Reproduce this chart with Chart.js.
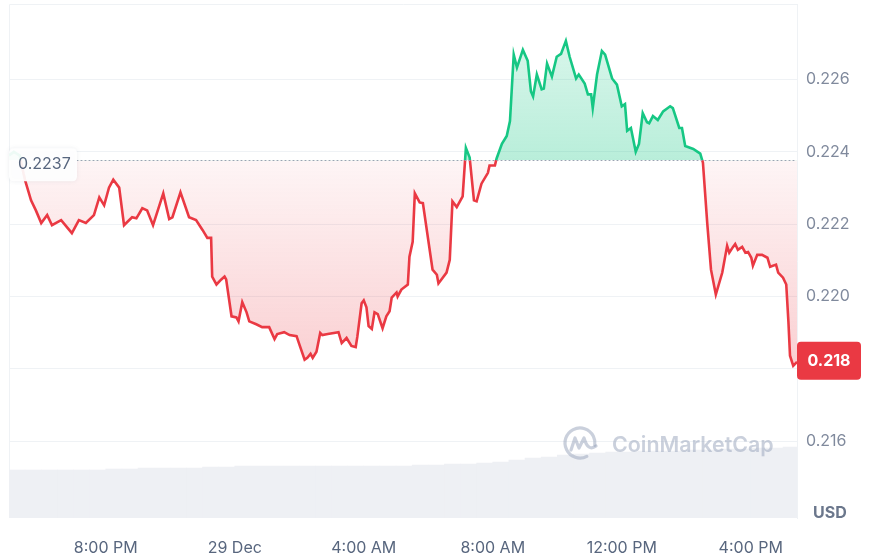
<!DOCTYPE html>
<html>
<head>
<meta charset="utf-8">
<script src="https://cdn.jsdelivr.net/npm/chart.js@4.4.1/dist/chart.umd.min.js"></script>
<style>
  html, body { margin: 0; padding: 0; background: #fff; }
  #wrap { position: relative; width: 889px; height: 553px; }
</style>
</head>
<body>
<div id="wrap"><canvas id="priceChart"></canvas></div>
<script>
// price, minutes after 5:00 PM on 28 Dec
const times = [0, 9, 20, 27, 30, 41, 50, 60, 71, 80, 97, 117, 130, 143, 158, 168, 177, 186, 194, 205,
  214, 229, 237, 248, 257, 268, 287, 298, 304, 319, 335, 348, 360, 369, 376, 378, 386, 395, 401, 404,
  414, 423, 427, 434, 442, 447, 460, 471, 484, 494, 499, 512, 522, 535, 540, 550, 555, 561, 565, 572,
  579, 583, 593, 613, 619, 628, 637, 645, 648, 656, 660, 665, 669, 675, 680, 686, 695, 702, 708, 712,
  721, 723, 730, 742, 745, 751, 755, 764, 770, 788, 796, 799, 814, 820, 825, 833, 844, 850, 857, 865,
  870, 879, 891, 894, 904, 907, 917, 926, 932, 939, 945, 956, 965, 971, 975, 982, 991, 995, 1001, 1010,
  1019, 1027, 1036, 1043, 1055, 1060, 1071, 1077, 1083, 1086, 1094, 1103, 1109, 1122, 1131, 1140, 1146, 1150, 1157, 1166,
  1172, 1179, 1187, 1191, 1198, 1207, 1217, 1230, 1235, 1247, 1252, 1258, 1273, 1286, 1291, 1299, 1306, 1315, 1327, 1336,
  1340, 1347, 1351, 1356, 1364, 1370, 1375, 1381, 1384, 1392, 1401, 1411, 1416, 1427, 1431, 1440, 1446, 1450, 1453, 1459,
  1466];
const prices = [0.2239, 0.2240, 0.2239, 0.2234, 0.22321, 0.22266, 0.22238, 0.22203, 0.22225, 0.22197,
  0.22211, 0.22175, 0.22211, 0.22203, 0.22225, 0.22274, 0.22252, 0.22301, 0.22323, 0.22301,
  0.22197, 0.22219, 0.22216, 0.22244, 0.22238, 0.22197, 0.22285, 0.22214, 0.22219, 0.22288,
  0.22219, 0.22211, 0.22184, 0.22162, 0.22162, 0.22055, 0.22033, 0.22047, 0.22055, 0.22047,
  0.21945, 0.21942, 0.21931, 0.21984, 0.21956, 0.21931, 0.21923, 0.21915, 0.21915, 0.21882,
  0.21896, 0.21901, 0.21893, 0.21890, 0.21868, 0.21825, 0.21830, 0.21841, 0.21830, 0.21847,
  0.21899, 0.21893, 0.21896, 0.21901, 0.21871, 0.21885, 0.21863, 0.21860, 0.21888, 0.21981,
  0.21989, 0.21970, 0.21918, 0.21910, 0.21956, 0.21951, 0.21912, 0.21945, 0.21959, 0.21997,
  0.22011, 0.22000, 0.22019, 0.22033, 0.22110, 0.22151, 0.22285, 0.22260, 0.22258, 0.22074,
  0.22060, 0.22036, 0.22066, 0.22101, 0.22263, 0.22247, 0.22277, 0.22411, 0.22384, 0.22266,
  0.22263, 0.22312, 0.22342, 0.22362, 0.22362, 0.22381, 0.22422, 0.22444, 0.22485, 0.22669,
  0.22633, 0.22682, 0.22652, 0.22567, 0.22553, 0.22614, 0.22573, 0.22575, 0.22644, 0.22608,
  0.22663, 0.22671, 0.22707, 0.22663, 0.22603, 0.22614, 0.22589, 0.22559, 0.22559, 0.22521,
  0.22614, 0.22679, 0.22669, 0.22603, 0.22586, 0.22526, 0.22532, 0.22458, 0.22466, 0.22400,
  0.22422, 0.22507, 0.22482, 0.22479, 0.22499, 0.22488, 0.22512, 0.22526, 0.22521, 0.22466,
  0.22466, 0.22416, 0.22408, 0.22395, 0.22370, 0.22203, 0.22074, 0.22005, 0.22066, 0.22140,
  0.22121, 0.22137, 0.22145, 0.22129, 0.22137, 0.22121, 0.22123, 0.22107, 0.22085, 0.22115,
  0.22115, 0.22107, 0.22082, 0.22088, 0.22066, 0.22052, 0.22033, 0.21931, 0.21836, 0.21808,
  0.21819];

// volume bars, half-hour buckets (centre minute) and relative volume
const volumeTimes = [15, 45, 75, 105, 135, 165, 195, 225, 255, 285, 315, 345, 375, 405, 435, 465,
  495, 525, 555, 585, 615, 645, 675, 705, 735, 765, 795, 825, 855, 885, 915, 945, 975, 1005,
  1035, 1065, 1095, 1125, 1155, 1185, 1215, 1245, 1275, 1305, 1335, 1365, 1395, 1425, 1455];
const volumes = [48, 48, 48, 48, 48, 48, 49, 49, 50, 50, 50, 50, 51, 51, 52, 52, 52, 52, 52, 52,
  52, 52, 52, 52, 52, 53, 53, 54, 54, 55, 56, 58, 60, 61, 63, 64, 65, 66, 66, 67, 67, 67, 68, 68,
  69, 69, 70, 70, 71];

const tickMinutes = [180, 420, 660, 900, 1140, 1380];
const tickLabels = ['8:00 PM', '29 Dec', '4:00 AM', '8:00 AM', '12:00 PM', '4:00 PM'];
const priceTicks = [0.216, 0.218, 0.220, 0.222, 0.224, 0.226];
const openPrice = 0.22377;

const GREEN = '#16c784';
const RED = '#ea3943';
const GRID = '#eff2f5';

Chart.defaults.font.family = 'Inter, "Noto Sans", sans-serif';

function baseFraction(chart) {
  const area = chart.chartArea;
  const y = chart.scales.y.getPixelForValue(openPrice);
  return Math.min(1, Math.max(0, (y - area.top) / (area.bottom - area.top)));
}

function lineGradient(context) {
  const chart = context.chart;
  const area = chart.chartArea;
  if (!area) return RED;
  const f = baseFraction(chart);
  const g = chart.ctx.createLinearGradient(0, area.top, 0, area.bottom);
  g.addColorStop(0, GREEN);
  g.addColorStop(f, GREEN);
  g.addColorStop(f, RED);
  g.addColorStop(1, RED);
  return g;
}

function greenFill(context) {
  const chart = context.chart;
  const area = chart.chartArea;
  if (!area) return 'rgba(22,199,132,0.22)';
  const yBase = chart.scales.y.getPixelForValue(openPrice);
  const yTop = chart.scales.y.getPixelForValue(Math.max(...prices));
  const g = chart.ctx.createLinearGradient(0, yTop, 0, yBase);
  g.addColorStop(0, 'rgba(22,199,132,0.17)');
  g.addColorStop(1, 'rgba(22,199,132,0.3)');
  return g;
}

function redFill(context) {
  const chart = context.chart;
  const area = chart.chartArea;
  if (!area) return 'rgba(234,57,67,0.15)';
  const yBase = chart.scales.y.getPixelForValue(openPrice);
  const yLow = chart.scales.y.getPixelForValue(Math.min(...prices));
  const g = chart.ctx.createLinearGradient(0, yBase, 0, yLow);
  g.addColorStop(0, 'rgba(234,57,67,0.05)');
  g.addColorStop(1, 'rgba(234,57,67,0.24)');
  return g;
}

function roundRect(ctx, x, y, w, h, r) {
  ctx.beginPath();
  ctx.moveTo(x + r, y);
  ctx.lineTo(x + w - r, y);
  ctx.quadraticCurveTo(x + w, y, x + w, y + r);
  ctx.lineTo(x + w, y + h - r);
  ctx.quadraticCurveTo(x + w, y + h, x + w - r, y + h);
  ctx.lineTo(x + r, y + h);
  ctx.quadraticCurveTo(x, y + h, x, y + h - r);
  ctx.lineTo(x, y + r);
  ctx.quadraticCurveTo(x, y, x + r, y);
  ctx.closePath();
}

const decorPlugin = {
  id: 'decor',
  beforeDatasetsDraw(chart) {
    const {ctx, chartArea: a} = chart;
    ctx.save();
    ctx.strokeStyle = GRID;
    ctx.lineWidth = 1;
    ctx.beginPath();
    ctx.moveTo(a.left + 0.5, a.bottom);
    ctx.lineTo(a.left + 0.5, a.top + 0.5);
    ctx.lineTo(a.right, a.top + 0.5);
    ctx.stroke();
    ctx.restore();
  },
  afterDatasetsDraw(chart) {
    const {ctx, chartArea: a} = chart;
    const yBase = chart.scales.y.getPixelForValue(openPrice);
    ctx.save();

    // watermark
    const wmColor = 'rgba(150,162,185,0.5)';
    const cx = a.right - 217, cy = a.bottom - 75;
    ctx.strokeStyle = wmColor;
    ctx.lineWidth = 3.2;
    ctx.lineCap = 'round';
    ctx.lineJoin = 'round';
    ctx.beginPath();
    ctx.arc(cx, cy, 15, 0.35 * Math.PI, 2.05 * Math.PI, false);
    ctx.stroke();
    ctx.beginPath();
    ctx.moveTo(cx - 9, cy + 7);
    ctx.lineTo(cx - 5, cy - 5);
    ctx.lineTo(cx - 1, cy + 5);
    ctx.lineTo(cx + 4, cy - 5);
    ctx.quadraticCurveTo(cx + 8, cy + 9, cx + 16, cy + 3);
    ctx.stroke();
    let size = 22;
    ctx.font = '600 ' + size + 'px Inter';
    const w = ctx.measureText('CoinMarketCap').width;
    size = size * 162 / w;
    ctx.font = '600 ' + size.toFixed(1) + 'px Inter';
    ctx.fillStyle = wmColor;
    ctx.textBaseline = 'middle';
    ctx.textAlign = 'left';
    ctx.fillText('CoinMarketCap', a.right - 185, a.bottom - 72);

    // open price dotted line
    ctx.strokeStyle = '#9aa3b2';
    ctx.lineWidth = 1;
    ctx.setLineDash([1, 3]);
    ctx.beginPath();
    ctx.moveTo(a.left + 68, Math.round(yBase) + 0.5);
    ctx.lineTo(a.right, Math.round(yBase) + 0.5);
    ctx.stroke();
    ctx.setLineDash([]);

    // open price label
    ctx.shadowColor = 'rgba(88,102,126,0.12)';
    ctx.shadowBlur = 4;
    ctx.fillStyle = 'rgba(255,255,255,0.92)';
    roundRect(ctx, a.left, yBase - 12, 68, 33, 5);
    ctx.fill();
    ctx.shadowBlur = 0;
    ctx.shadowColor = 'transparent';
    ctx.fillStyle = '#58667e';
    ctx.font = '16px Inter';
    ctx.fillText((Math.floor(openPrice * 1e4) / 1e4).toFixed(4), a.left + 9, yBase + 4);
    ctx.restore();
  },
  afterDraw(chart) {
    const {ctx, chartArea: a} = chart;
    const last = prices[prices.length - 1];
    const yLast = chart.scales.y.getPixelForValue(last);
    ctx.save();
    ctx.fillStyle = RED;
    roundRect(ctx, a.right, yLast - 20, 64, 38, 4);
    ctx.fill();
    ctx.fillStyle = '#ffffff';
    ctx.font = 'bold 16px Inter';
    ctx.textAlign = 'center';
    ctx.textBaseline = 'middle';
    ctx.fillText(last.toFixed(3), a.right + 32, yLast - 1);

    ctx.fillStyle = '#6b778c';
    ctx.font = 'bold 16px Inter';
    ctx.textAlign = 'left';
    ctx.fillText('USD', a.right + 16, a.bottom - 5);
    ctx.restore();
  }
};

const ctx = document.getElementById('priceChart').getContext('2d');
const priceChart = new Chart(ctx, {
  type: 'line',
  data: {
    datasets: [{
      type: 'line',
      label: 'Price',
      data: times.map((t, i) => ({ x: t, y: prices[i] })),
      yAxisID: 'y',
      borderColor: lineGradient,
      borderWidth: 2.6,
      pointRadius: 0,
      tension: 0,
      order: 0,
      fill: {
        target: { value: openPrice },
        above: greenFill,
        below: redFill
      }
    }, {
      type: 'bar',
      label: 'Volume',
      data: volumeTimes.map((t, i) => ({ x: t, y: volumes[i] })),
      yAxisID: 'yVol',
      backgroundColor: '#eef0f4',
      borderWidth: 0,
      barPercentage: 1,
      categoryPercentage: 1,
      order: 1
    }]
  },
  options: {
    responsive: true,
    maintainAspectRatio: false,
    animation: false,
    layout: { padding: { left: 9, top: 4 } },
    plugins: { legend: { display: false }, tooltip: { enabled: false } },
    scales: {
      x: {
        type: 'linear',
        min: 0,
        max: 1466,
        offset: false,
        grid: { display: false },
        border: { display: false },
        afterBuildTicks: scale => { scale.ticks = tickMinutes.map(v => ({ value: v })); },
        afterFit: scale => { scale.height = 35; scale.paddingLeft = 0; scale.paddingRight = 0; },
        ticks: {
          padding: 13,
          maxRotation: 0,
          autoSkip: false,
          color: '#58667e',
          font: { size: 16 },
          callback: value => tickLabels[tickMinutes.indexOf(value)]
        }
      },
      y: {
        position: 'right',
        min: 0.21387,
        max: 0.22809,
        grid: { color: GRID, drawTicks: false },
        border: { display: true, color: GRID },
        afterBuildTicks: scale => { scale.ticks = priceTicks.map(v => ({ value: v })); },
        afterFit: scale => { scale.width = 92; scale.paddingTop = 0; scale.paddingBottom = 0; },
        ticks: {
          padding: 9,
          color: '#808a9d',
          font: { size: 16 },
          callback: value => value.toFixed(3)
        }
      },
      yVol: {
        display: false,
        min: 0,
        max: 514
      }
    }
  },
  plugins: [decorPlugin]
});
</script>
</body>
</html>
